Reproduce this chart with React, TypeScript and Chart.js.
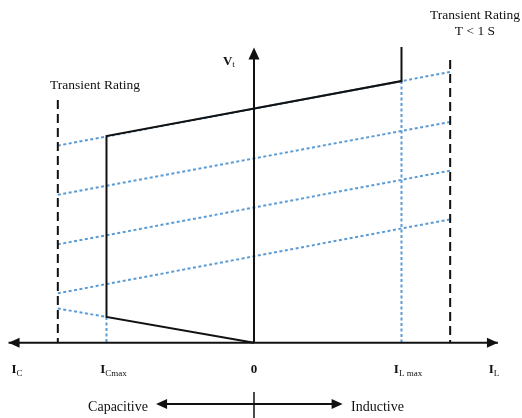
import React, { useEffect, useRef } from "react";
import { Chart, registerables } from "chart.js";

Chart.register(...registerables);

// Current axis in per-unit of rated current (I_Cmax = -1, I_Lmax = +1)
// Voltage axis in per-unit terminal voltage V_t
const X_MIN = -1.722;
const X_MAX = 1.817;
const Y_MIN = -0.322;
const Y_MAX = 1.4645;

// horizontal current axis extent and vertical V_t axis top
const currentAxisX = [-1.664, 1.654];
const voltageAxisTop = 1.2615;

// operating limit (solid black polyline)
const limitX = [1, 1, -1, -1, 0];
const limitV = [1.264, 1.118, 0.883, 0.11, 0];

// transient rating boundaries (dashed)
const transientX = [-1.33, 1.33];
const transientTopV = [1.037, 1.208];

// parallel load lines (blue dotted), from left boundary to right boundary
const loadLeftV = [0.842, 0.632, 0.42, 0.211];
const loadRightV = [1.157, 0.943, 0.735, 0.527];

// extension of the capacitive limit line and vertical drops
const extX = [-1.33, -1];
const extV = [0.146, 0.11];
const dropX = [-1, 1];
const dropTopV = [0.11, 1.118];

// tick labels on the current axis
const tickMain = ["I", "I", "0", "I", "I"];
const tickSub = ["C", "Cmax", "", "L max", "L"];
const tickPos = [-1.607, -0.953, 0, 1.044, 1.627];

const BLACK = "#111111";
const BLUE = "#5b9bd5";
const SERIF = "'Liberation Serif', 'Times New Roman', serif";

function arrowHead(ctx: CanvasRenderingContext2D, tx: number, ty: number, dx: number, dy: number, len: number, hw: number) {
  const bx = tx - dx * len;
  const by = ty - dy * len;
  const px = -dy;
  const py = dx;
  ctx.beginPath();
  ctx.moveTo(tx, ty);
  ctx.lineTo(bx + px * hw, by + py * hw);
  ctx.lineTo(bx - px * hw, by - py * hw);
  ctx.closePath();
  ctx.fill();
}

function subLabel(ctx: CanvasRenderingContext2D, main: string, sub: string, cx: number, cy: number, align: "center" | "left" = "center") {
  ctx.textBaseline = "alphabetic";
  ctx.textAlign = "left";
  const mainFont = `bold 13px ${SERIF}`;
  const subFont = `9px ${SERIF}`;
  ctx.font = mainFont;
  const wm = ctx.measureText(main).width;
  ctx.font = subFont;
  const ws = sub ? ctx.measureText(sub).width : 0;
  const total = wm + ws;
  const x0 = align === "center" ? cx - total / 2 : cx;
  ctx.font = mainFont;
  ctx.fillText(main, x0, cy + 4.5);
  if (sub) {
    ctx.font = subFont;
    ctx.fillText(sub, x0 + wm, cy + 7);
  }
}

const annotations = {
  id: "annotations",
  afterDatasetsDraw(chart: any) {
    const { ctx } = chart;
    const xs = chart.scales.x;
    const ys = chart.scales.y;
    const X = (v: number) => xs.getPixelForValue(v);
    const Y = (v: number) => ys.getPixelForValue(v);
    ctx.save();
    ctx.fillStyle = BLACK;
    ctx.strokeStyle = BLACK;

    // axis arrowheads
    arrowHead(ctx, X(currentAxisX[0]), Y(0), -1, 0, 11, 5);
    arrowHead(ctx, X(currentAxisX[1]), Y(0), 1, 0, 11, 5);
    arrowHead(ctx, X(0), Y(voltageAxisTop), 0, -1, 12, 5.5);

    // tick labels
    for (let i = 0; i < tickMain.length; i++) {
      subLabel(ctx, tickMain[i], tickSub[i], X(tickPos[i]), Y(-0.112));
    }
    // V_t label
    subLabel(ctx, "V", "t", X(-0.17), Y(1.208));

    // transient rating texts
    ctx.font = `13.5px ${SERIF}`;
    ctx.textAlign = "center";
    ctx.textBaseline = "middle";
    ctx.fillText("Transient Rating", X(-1.078), Y(1.101));
    ctx.fillText("Transient Rating", X(1.498), Y(1.4));
    ctx.fillText("T < 1 S", X(1.498), Y(1.328));

    // capacitive / inductive arrow
    const ay = Y(-0.262);
    ctx.lineWidth = 2;
    ctx.beginPath();
    ctx.moveTo(X(-0.664) + 4, ay);
    ctx.lineTo(X(0.601) - 4, ay);
    ctx.stroke();
    arrowHead(ctx, X(-0.664), ay, -1, 0, 11, 5);
    arrowHead(ctx, X(0.601), ay, 1, 0, 11, 5);
    ctx.lineWidth = 1.5;
    ctx.beginPath();
    ctx.moveTo(X(0), Y(-0.211));
    ctx.lineTo(X(0), Y(Y_MIN));
    ctx.stroke();

    ctx.font = `14px ${SERIF}`;
    ctx.textBaseline = "middle";
    ctx.textAlign = "right";
    ctx.fillText("Capacitive", X(-0.719), Y(-0.275));
    ctx.textAlign = "left";
    ctx.fillText("Inductive", X(0.658), Y(-0.275));
    ctx.restore();
  },
};

function pts(xv: number[], yv: number[]) {
  return xv.map((x, i) => ({ x, y: yv[i] }));
}

export default function App() {
  const ref = useRef<HTMLCanvasElement | null>(null);

  useEffect(() => {
    if (!ref.current) return;
    const solid = { borderColor: BLACK, borderWidth: 2, pointRadius: 0, showLine: true, fill: false, tension: 0 };
    const dotted = { borderColor: BLUE, borderWidth: 2, borderDash: [3, 2.5], pointRadius: 0, showLine: true, fill: false, tension: 0 };
    const dashed = { borderColor: BLACK, borderWidth: 2, borderDash: [9, 5], pointRadius: 0, showLine: true, fill: false, tension: 0 };

    const datasets: any[] = [
      { ...solid, order: 1, data: pts(currentAxisX, [0, 0]) },
      { ...solid, order: 1, data: pts([0, 0], [0, voltageAxisTop - 0.04]) },
      { ...solid, order: 2, data: pts(limitX, limitV) },
      ...transientX.map((x, i) => ({ ...dashed, order: 3, data: pts([x, x], [transientTopV[i], 0]) })),
      ...loadLeftV.map((v, i) => ({ ...dotted, order: 5, data: pts(transientX, [v, loadRightV[i]]) })),
      { ...dotted, order: 5, data: pts(extX, extV) },
      ...dropX.map((x, i) => ({ ...dotted, order: 5, data: pts([x, x], [dropTopV[i], 0]) })),
    ];

    const chart = new Chart(ref.current, {
      type: "scatter",
      data: { datasets },
      options: {
        animation: false,
        responsive: true,
        maintainAspectRatio: false,
        layout: { padding: 0 },
        plugins: { legend: { display: false }, tooltip: { enabled: false }, title: { display: false } },
        scales: {
          x: { type: "linear", min: X_MIN, max: X_MAX, display: false },
          y: { type: "linear", min: Y_MIN, max: Y_MAX, display: false },
        },
      },
      plugins: [annotations],
    });
    return () => chart.destroy();
  }, []);

  return (
    <div style={{ position: "absolute", left: 0, top: 0, width: 522, height: 418, background: "#ffffff" }}>
      <canvas ref={ref} />
    </div>
  );
}
